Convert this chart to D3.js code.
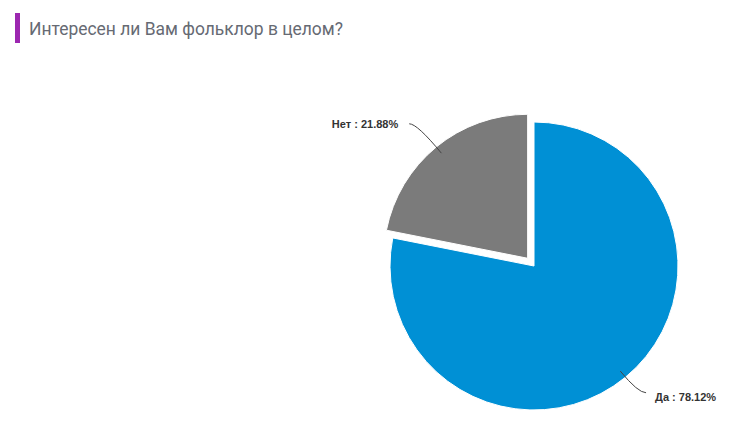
<!DOCTYPE html>
<html>
<head>
<meta charset="utf-8">
<script src="https://cdn.jsdelivr.net/npm/d3@7"></script>
<style>
  body { margin: 0; background: #fff; }
</style>
</head>
<body>
<script>
// data
var labels = ["Да", "Нет"];
var values = [78.12, 21.88];
var colors = ["#0090d5", "#7b7b7b"];

var w = 729, h = 437;
var cx = 534, cy = 266, r = 144;

var svg = d3.select("body").append("svg")
    .attr("width", w)
    .attr("height", h);

// title
svg.append("rect")
    .attr("x", 15).attr("y", 13)
    .attr("width", 5).attr("height", 30)
    .attr("fill", "#9c27b0");

svg.append("text")
    .attr("x", 29).attr("y", 35)
    .attr("font-family", "Roboto, sans-serif")
    .attr("font-size", 19)
    .attr("fill", "#666a73")
    .attr("textLength", 314)
    .attr("lengthAdjust", "spacingAndGlyphs")
    .text("Интересен ли Вам фольклор в целом?");

var pie = d3.pie().sort(null).value(d => d);
var arcs = pie(values);
var arc = d3.arc().innerRadius(0).outerRadius(r);

var g = svg.append("g").attr("transform", "translate(" + cx + "," + cy + ")");

// sliced offset for the second slice
function offset(d, i) {
    if (i == 0) return [0, 0];
    var a = (d.startAngle + d.endAngle) / 2;
    return [10 * Math.sin(a), -10 * Math.cos(a)];
}

g.selectAll("path.slice")
    .data(arcs)
    .enter()
    .append("path")
    .attr("class", "slice")
    .attr("transform", (d, i) => "translate(" + offset(d, i) + ")")
    .attr("fill", (d, i) => colors[i])
    .attr("stroke", "#fff")
    .attr("stroke-width", 1)
    .attr("d", arc);

// connectors and labels
arcs.forEach(function(d, i) {
    var a = (d.startAngle + d.endAngle) / 2;
    var o = offset(d, i);
    var sx = Math.sin(a), sy = -Math.cos(a);
    var right = sx > 0;
    var L = right ? 20 : 30;
    var edge = [o[0] + sx * r, o[1] + sy * r];
    var p0 = [edge[0] - sx * 8, edge[1] - sy * 8];
    var p1 = [edge[0] + sx * L, edge[1] + sy * L];
    var p2 = [p1[0] + (right ? 8 : -8), p1[1]];
    var tx = p2[0] + (right ? 9 : -11);

    g.append("path")
        .attr("d", "M" + p0 + "Q" + p1 + " " + p2)
        .attr("fill", "none")
        .attr("stroke", "#444")
        .attr("stroke-width", 1);

    g.append("text")
        .attr("x", tx)
        .attr("y", p2[1] + (right ? 8 : 4))
        .attr("text-anchor", right ? "start" : "end")
        .attr("font-family", "Liberation Sans, Arial, sans-serif")
        .attr("font-size", 11)
        .attr("font-weight", "bold")
        .attr("fill", "#333")
        .text(labels[i] + " : " + d3.format(".2f")(values[i]) + "%");
});
</script>
</body>
</html>
